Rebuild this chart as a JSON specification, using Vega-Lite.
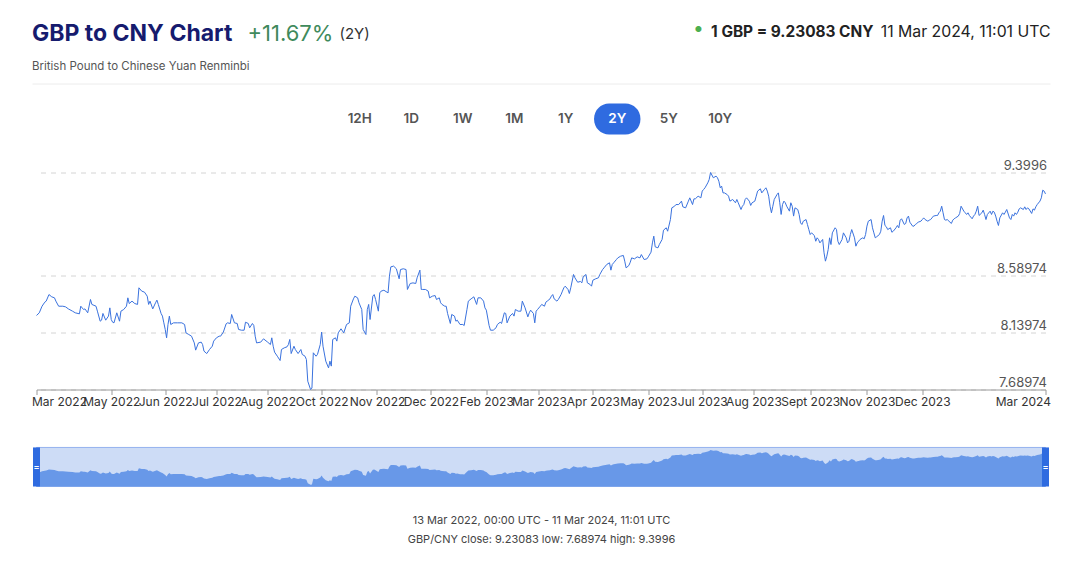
{
  "$schema": "https://vega.github.io/schema/vega-lite/v6.json",
  "background": "white",
  "padding": {"left": 31, "top": 22.5, "right": 5, "bottom": 5},
  "config": {
    "font": "Inter",
    "view": {"stroke": null},
    "axis": {"labelFont": "Inter", "titleFont": "Inter"},
    "title": {"font": "Inter", "subtitleFont": "Inter"}
  },
  "title": {
    "text": "GBP to CNY Chart",
    "subtitle": "British Pound to Chinese Yuan Renminbi",
    "anchor": "start",
    "frame": "group",
    "offset": -50,
    "fontSize": 23,
    "fontWeight": 700,
    "color": "#161b6e",
    "subtitleFontSize": 11.5,
    "subtitleColor": "#555555",
    "subtitlePadding": 15
  },
  "datasets": {
    "fx": [
      {"d":"2022-03-13","v":8.273},{"d":"2022-03-15","v":8.294},{"d":"2022-03-17","v":8.346},{"d":"2022-03-19","v":8.378},{"d":"2022-03-20","v":8.386},{"d":"2022-03-22","v":8.438},{"d":"2022-03-24","v":8.420},{"d":"2022-03-26","v":8.412},{"d":"2022-03-27","v":8.386},{"d":"2022-03-29","v":8.346},
      {"d":"2022-04-01","v":8.346},{"d":"2022-04-03","v":8.341},{"d":"2022-04-05","v":8.325},{"d":"2022-04-08","v":8.307},{"d":"2022-04-10","v":8.294},{"d":"2022-04-13","v":8.286},{"d":"2022-04-14","v":8.346},{"d":"2022-04-16","v":8.320},{"d":"2022-04-17","v":8.325},{"d":"2022-04-19","v":8.294},{"d":"2022-04-21","v":8.399},{"d":"2022-04-22","v":8.360},{"d":"2022-04-25","v":8.346},{"d":"2022-04-26","v":8.307},{"d":"2022-04-28","v":8.228},{"d":"2022-04-29","v":8.236},{"d":"2022-04-30","v":8.289},
      {"d":"2022-05-02","v":8.236},{"d":"2022-05-04","v":8.268},{"d":"2022-05-05","v":8.333},{"d":"2022-05-06","v":8.241},{"d":"2022-05-07","v":8.220},{"d":"2022-05-08","v":8.215},{"d":"2022-05-10","v":8.294},{"d":"2022-05-12","v":8.228},{"d":"2022-05-13","v":8.307},{"d":"2022-05-15","v":8.320},{"d":"2022-05-17","v":8.346},{"d":"2022-05-18","v":8.412},{"d":"2022-05-19","v":8.367},{"d":"2022-05-21","v":8.386},{"d":"2022-05-23","v":8.367},{"d":"2022-05-25","v":8.360},{"d":"2022-05-26","v":8.491},{"d":"2022-05-28","v":8.465},{"d":"2022-05-30","v":8.457},
      {"d":"2022-06-01","v":8.425},{"d":"2022-06-02","v":8.360},{"d":"2022-06-03","v":8.386},{"d":"2022-06-05","v":8.325},{"d":"2022-06-07","v":8.373},{"d":"2022-06-08","v":8.394},{"d":"2022-06-09","v":8.360},{"d":"2022-06-11","v":8.289},{"d":"2022-06-12","v":8.268},{"d":"2022-06-13","v":8.215},{"d":"2022-06-14","v":8.163},{"d":"2022-06-15","v":8.097},{"d":"2022-06-16","v":8.202},{"d":"2022-06-17","v":8.268},{"d":"2022-06-18","v":8.202},{"d":"2022-06-20","v":8.215},{"d":"2022-06-23","v":8.215},{"d":"2022-06-26","v":8.215},{"d":"2022-06-28","v":8.202},{"d":"2022-06-29","v":8.136},
      {"d":"2022-07-01","v":8.123},{"d":"2022-07-03","v":8.110},{"d":"2022-07-05","v":8.057},{"d":"2022-07-06","v":8.000},{"d":"2022-07-08","v":8.057},{"d":"2022-07-10","v":8.063},{"d":"2022-07-11","v":8.044},{"d":"2022-07-12","v":7.992},{"d":"2022-07-14","v":7.973},{"d":"2022-07-16","v":8.005},{"d":"2022-07-18","v":8.031},{"d":"2022-07-19","v":8.071},{"d":"2022-07-21","v":8.097},{"d":"2022-07-23","v":8.110},{"d":"2022-07-24","v":8.110},{"d":"2022-07-26","v":8.142},{"d":"2022-07-28","v":8.207},{"d":"2022-07-29","v":8.215},{"d":"2022-07-31","v":8.210},
      {"d":"2022-08-01","v":8.281},{"d":"2022-08-03","v":8.215},{"d":"2022-08-05","v":8.210},{"d":"2022-08-06","v":8.163},{"d":"2022-08-08","v":8.157},{"d":"2022-08-10","v":8.157},{"d":"2022-08-11","v":8.220},{"d":"2022-08-13","v":8.210},{"d":"2022-08-14","v":8.176},{"d":"2022-08-16","v":8.210},{"d":"2022-08-17","v":8.194},{"d":"2022-08-18","v":8.110},{"d":"2022-08-19","v":8.057},{"d":"2022-08-22","v":8.063},{"d":"2022-08-24","v":8.089},{"d":"2022-08-27","v":8.063},{"d":"2022-08-29","v":8.044},{"d":"2022-08-30","v":8.097},{"d":"2022-08-31","v":8.031},
      {"d":"2022-09-01","v":7.984},{"d":"2022-09-03","v":7.952},{"d":"2022-09-05","v":7.918},{"d":"2022-09-06","v":8.005},{"d":"2022-09-08","v":8.018},{"d":"2022-09-10","v":8.026},{"d":"2022-09-11","v":8.044},{"d":"2022-09-12","v":8.084},{"d":"2022-09-13","v":7.973},{"d":"2022-09-15","v":8.031},{"d":"2022-09-16","v":8.005},{"d":"2022-09-18","v":7.973},{"d":"2022-09-20","v":8.005},{"d":"2022-09-21","v":7.966},{"d":"2022-09-23","v":7.952},{"d":"2022-09-24","v":7.926},{"d":"2022-09-25","v":7.755},{"d":"2022-09-27","v":7.68974},{"d":"2022-09-28","v":7.700},{"d":"2022-09-29","v":7.979},
      {"d":"2022-10-01","v":7.952},{"d":"2022-10-02","v":7.966},{"d":"2022-10-04","v":8.044},{"d":"2022-10-05","v":8.142},{"d":"2022-10-06","v":8.031},{"d":"2022-10-08","v":7.913},{"d":"2022-10-10","v":7.860},{"d":"2022-10-11","v":7.913},{"d":"2022-10-12","v":7.874},{"d":"2022-10-13","v":8.084},{"d":"2022-10-15","v":8.097},{"d":"2022-10-16","v":8.071},{"d":"2022-10-17","v":8.136},{"d":"2022-10-19","v":8.168},{"d":"2022-10-21","v":8.136},{"d":"2022-10-23","v":8.202},{"d":"2022-10-25","v":8.215},{"d":"2022-10-26","v":8.346},{"d":"2022-10-28","v":8.404},{"d":"2022-10-29","v":8.425},{"d":"2022-10-31","v":8.412},
      {"d":"2022-11-01","v":8.373},{"d":"2022-11-03","v":8.320},{"d":"2022-11-04","v":8.163},{"d":"2022-11-06","v":8.123},{"d":"2022-11-07","v":8.320},{"d":"2022-11-08","v":8.360},{"d":"2022-11-09","v":8.241},{"d":"2022-11-11","v":8.425},{"d":"2022-11-12","v":8.438},{"d":"2022-11-13","v":8.399},{"d":"2022-11-15","v":8.307},{"d":"2022-11-16","v":8.451},{"d":"2022-11-17","v":8.465},{"d":"2022-11-19","v":8.472},{"d":"2022-11-22","v":8.451},{"d":"2022-11-23","v":8.583},{"d":"2022-11-24","v":8.656},{"d":"2022-11-26","v":8.662},{"d":"2022-11-28","v":8.641},{"d":"2022-11-30","v":8.562},
      {"d":"2022-12-01","v":8.635},{"d":"2022-12-03","v":8.641},{"d":"2022-12-05","v":8.635},{"d":"2022-12-06","v":8.478},{"d":"2022-12-08","v":8.525},{"d":"2022-12-10","v":8.530},{"d":"2022-12-12","v":8.525},{"d":"2022-12-13","v":8.570},{"d":"2022-12-15","v":8.630},{"d":"2022-12-16","v":8.478},{"d":"2022-12-17","v":8.478},{"d":"2022-12-19","v":8.478},{"d":"2022-12-21","v":8.465},{"d":"2022-12-22","v":8.412},{"d":"2022-12-24","v":8.425},{"d":"2022-12-26","v":8.430},{"d":"2022-12-27","v":8.399},{"d":"2022-12-29","v":8.412},{"d":"2022-12-30","v":8.373},{"d":"2022-12-31","v":8.360},
      {"d":"2023-01-02","v":8.346},{"d":"2023-01-03","v":8.346},{"d":"2023-01-04","v":8.289},{"d":"2023-01-06","v":8.210},{"d":"2023-01-07","v":8.281},{"d":"2023-01-09","v":8.268},{"d":"2023-01-10","v":8.228},{"d":"2023-01-11","v":8.236},{"d":"2023-01-13","v":8.202},{"d":"2023-01-15","v":8.202},{"d":"2023-01-16","v":8.194},{"d":"2023-01-18","v":8.320},{"d":"2023-01-19","v":8.386},{"d":"2023-01-21","v":8.404},{"d":"2023-01-23","v":8.420},{"d":"2023-01-25","v":8.360},{"d":"2023-01-26","v":8.412},{"d":"2023-01-28","v":8.412},{"d":"2023-01-30","v":8.386},{"d":"2023-01-31","v":8.333},
      {"d":"2023-02-01","v":8.315},{"d":"2023-02-03","v":8.194},{"d":"2023-02-04","v":8.157},{"d":"2023-02-06","v":8.157},{"d":"2023-02-08","v":8.176},{"d":"2023-02-09","v":8.202},{"d":"2023-02-11","v":8.220},{"d":"2023-02-12","v":8.210},{"d":"2023-02-14","v":8.294},{"d":"2023-02-15","v":8.289},{"d":"2023-02-16","v":8.215},{"d":"2023-02-18","v":8.268},{"d":"2023-02-20","v":8.289},{"d":"2023-02-21","v":8.268},{"d":"2023-02-22","v":8.320},{"d":"2023-02-24","v":8.307},{"d":"2023-02-26","v":8.307},{"d":"2023-02-27","v":8.386},
      {"d":"2023-03-01","v":8.333},{"d":"2023-03-03","v":8.262},{"d":"2023-03-04","v":8.294},{"d":"2023-03-05","v":8.315},{"d":"2023-03-07","v":8.289},{"d":"2023-03-08","v":8.215},{"d":"2023-03-09","v":8.307},{"d":"2023-03-10","v":8.320},{"d":"2023-03-12","v":8.346},{"d":"2023-03-13","v":8.360},{"d":"2023-03-15","v":8.346},{"d":"2023-03-16","v":8.378},{"d":"2023-03-17","v":8.386},{"d":"2023-03-19","v":8.404},{"d":"2023-03-20","v":8.425},{"d":"2023-03-21","v":8.438},{"d":"2023-03-22","v":8.404},{"d":"2023-03-24","v":8.386},{"d":"2023-03-25","v":8.399},{"d":"2023-03-27","v":8.438},{"d":"2023-03-28","v":8.465},{"d":"2023-03-29","v":8.491},{"d":"2023-03-30","v":8.504},
      {"d":"2023-04-01","v":8.478},{"d":"2023-04-02","v":8.446},{"d":"2023-04-03","v":8.491},{"d":"2023-04-05","v":8.596},{"d":"2023-04-06","v":8.570},{"d":"2023-04-08","v":8.535},{"d":"2023-04-10","v":8.541},{"d":"2023-04-11","v":8.530},{"d":"2023-04-12","v":8.578},{"d":"2023-04-14","v":8.596},{"d":"2023-04-15","v":8.530},{"d":"2023-04-17","v":8.517},{"d":"2023-04-18","v":8.504},{"d":"2023-04-19","v":8.551},{"d":"2023-04-21","v":8.562},{"d":"2023-04-23","v":8.570},{"d":"2023-04-24","v":8.596},{"d":"2023-04-26","v":8.635},{"d":"2023-04-27","v":8.648},{"d":"2023-04-29","v":8.675},
      {"d":"2023-05-01","v":8.688},{"d":"2023-05-02","v":8.630},{"d":"2023-05-03","v":8.675},{"d":"2023-05-04","v":8.688},{"d":"2023-05-06","v":8.714},{"d":"2023-05-07","v":8.727},{"d":"2023-05-09","v":8.740},{"d":"2023-05-11","v":8.746},{"d":"2023-05-12","v":8.701},{"d":"2023-05-13","v":8.648},{"d":"2023-05-15","v":8.667},{"d":"2023-05-16","v":8.693},{"d":"2023-05-17","v":8.727},{"d":"2023-05-19","v":8.719},{"d":"2023-05-21","v":8.735},{"d":"2023-05-23","v":8.727},{"d":"2023-05-24","v":8.753},{"d":"2023-05-26","v":8.714},{"d":"2023-05-28","v":8.719},{"d":"2023-05-29","v":8.735},{"d":"2023-05-31","v":8.772},
      {"d":"2023-06-01","v":8.845},{"d":"2023-06-02","v":8.898},{"d":"2023-06-03","v":8.814},{"d":"2023-06-05","v":8.806},{"d":"2023-06-06","v":8.832},{"d":"2023-06-08","v":8.872},{"d":"2023-06-09","v":8.945},{"d":"2023-06-11","v":8.964},{"d":"2023-06-12","v":8.937},{"d":"2023-06-14","v":9.029},{"d":"2023-06-15","v":9.121},{"d":"2023-06-17","v":9.134},{"d":"2023-06-18","v":9.147},{"d":"2023-06-20","v":9.147},{"d":"2023-06-22","v":9.174},{"d":"2023-06-23","v":9.129},{"d":"2023-06-25","v":9.121},{"d":"2023-06-27","v":9.174},{"d":"2023-06-28","v":9.200},{"d":"2023-06-30","v":9.147},
      {"d":"2023-07-01","v":9.192},{"d":"2023-07-02","v":9.192},{"d":"2023-07-04","v":9.213},{"d":"2023-07-06","v":9.200},{"d":"2023-07-07","v":9.253},{"d":"2023-07-08","v":9.266},{"d":"2023-07-09","v":9.279},{"d":"2023-07-11","v":9.318},{"d":"2023-07-12","v":9.344},{"d":"2023-07-13","v":9.3996},{"d":"2023-07-15","v":9.358},{"d":"2023-07-17","v":9.371},{"d":"2023-07-18","v":9.358},{"d":"2023-07-19","v":9.331},{"d":"2023-07-20","v":9.279},{"d":"2023-07-21","v":9.292},{"d":"2023-07-22","v":9.239},{"d":"2023-07-23","v":9.239},{"d":"2023-07-25","v":9.226},{"d":"2023-07-26","v":9.213},{"d":"2023-07-27","v":9.174},{"d":"2023-07-29","v":9.187},{"d":"2023-07-30","v":9.174},{"d":"2023-07-31","v":9.161},
      {"d":"2023-08-01","v":9.187},{"d":"2023-08-02","v":9.161},{"d":"2023-08-04","v":9.108},{"d":"2023-08-05","v":9.134},{"d":"2023-08-06","v":9.147},{"d":"2023-08-07","v":9.187},{"d":"2023-08-08","v":9.200},{"d":"2023-08-10","v":9.174},{"d":"2023-08-11","v":9.140},{"d":"2023-08-12","v":9.161},{"d":"2023-08-14","v":9.174},{"d":"2023-08-15","v":9.213},{"d":"2023-08-16","v":9.253},{"d":"2023-08-18","v":9.271},{"d":"2023-08-19","v":9.239},{"d":"2023-08-21","v":9.266},{"d":"2023-08-22","v":9.279},{"d":"2023-08-23","v":9.253},{"d":"2023-08-24","v":9.213},{"d":"2023-08-25","v":9.134},{"d":"2023-08-26","v":9.082},{"d":"2023-08-27","v":9.134},{"d":"2023-08-28","v":9.187},{"d":"2023-08-30","v":9.226},{"d":"2023-08-31","v":9.239},
      {"d":"2023-09-01","v":9.161},{"d":"2023-09-02","v":9.069},{"d":"2023-09-03","v":9.147},{"d":"2023-09-04","v":9.174},{"d":"2023-09-05","v":9.161},{"d":"2023-09-06","v":9.134},{"d":"2023-09-08","v":9.095},{"d":"2023-09-09","v":9.161},{"d":"2023-09-10","v":9.134},{"d":"2023-09-11","v":9.056},{"d":"2023-09-12","v":9.121},{"d":"2023-09-14","v":9.108},{"d":"2023-09-15","v":9.069},{"d":"2023-09-16","v":9.003},{"d":"2023-09-17","v":8.990},{"d":"2023-09-18","v":9.016},{"d":"2023-09-20","v":9.029},{"d":"2023-09-21","v":8.990},{"d":"2023-09-22","v":8.950},{"d":"2023-09-23","v":8.911},{"d":"2023-09-24","v":8.924},{"d":"2023-09-26","v":8.903},{"d":"2023-09-27","v":8.858},{"d":"2023-09-28","v":8.885},{"d":"2023-09-29","v":8.872},{"d":"2023-09-30","v":8.845},
      {"d":"2023-10-02","v":8.872},{"d":"2023-10-03","v":8.767},{"d":"2023-10-04","v":8.701},{"d":"2023-10-05","v":8.740},{"d":"2023-10-06","v":8.793},{"d":"2023-10-07","v":8.885},{"d":"2023-10-08","v":8.832},{"d":"2023-10-09","v":8.924},{"d":"2023-10-11","v":8.964},{"d":"2023-10-12","v":8.950},{"d":"2023-10-13","v":8.858},{"d":"2023-10-14","v":8.832},{"d":"2023-10-16","v":8.872},{"d":"2023-10-17","v":8.924},{"d":"2023-10-19","v":8.885},{"d":"2023-10-20","v":8.845},{"d":"2023-10-21","v":8.858},{"d":"2023-10-22","v":8.911},{"d":"2023-10-23","v":8.950},{"d":"2023-10-25","v":8.885},{"d":"2023-10-26","v":8.819},{"d":"2023-10-27","v":8.845},{"d":"2023-10-28","v":8.858},{"d":"2023-10-29","v":8.872},{"d":"2023-10-31","v":8.885},
      {"d":"2023-11-01","v":8.877},{"d":"2023-11-02","v":8.911},{"d":"2023-11-03","v":8.977},{"d":"2023-11-04","v":9.016},{"d":"2023-11-06","v":9.029},{"d":"2023-11-07","v":8.964},{"d":"2023-11-08","v":8.924},{"d":"2023-11-09","v":8.885},{"d":"2023-11-10","v":8.893},{"d":"2023-11-12","v":8.911},{"d":"2023-11-13","v":8.937},{"d":"2023-11-14","v":9.016},{"d":"2023-11-15","v":9.061},{"d":"2023-11-16","v":8.982},{"d":"2023-11-17","v":8.972},{"d":"2023-11-18","v":8.950},{"d":"2023-11-20","v":8.964},{"d":"2023-11-21","v":8.929},{"d":"2023-11-22","v":8.937},{"d":"2023-11-24","v":8.964},{"d":"2023-11-25","v":8.982},{"d":"2023-11-26","v":8.964},{"d":"2023-11-27","v":9.024},{"d":"2023-11-28","v":9.035},{"d":"2023-11-30","v":8.990},
      {"d":"2023-12-01","v":8.998},{"d":"2023-12-02","v":9.042},{"d":"2023-12-03","v":9.056},{"d":"2023-12-04","v":9.008},{"d":"2023-12-06","v":8.977},{"d":"2023-12-07","v":8.977},{"d":"2023-12-08","v":8.990},{"d":"2023-12-09","v":8.998},{"d":"2023-12-10","v":9.008},{"d":"2023-12-12","v":9.016},{"d":"2023-12-13","v":9.029},{"d":"2023-12-14","v":9.042},{"d":"2023-12-15","v":9.029},{"d":"2023-12-17","v":9.016},{"d":"2023-12-18","v":9.024},{"d":"2023-12-19","v":9.029},{"d":"2023-12-20","v":9.042},{"d":"2023-12-21","v":9.056},{"d":"2023-12-23","v":9.061},{"d":"2023-12-24","v":9.061},{"d":"2023-12-25","v":9.082},{"d":"2023-12-26","v":9.095},{"d":"2023-12-27","v":9.134},{"d":"2023-12-28","v":9.082},{"d":"2023-12-29","v":9.029},{"d":"2023-12-30","v":9.024},{"d":"2023-12-31","v":9.029},
      {"d":"2024-01-02","v":9.008},{"d":"2024-01-03","v":8.998},{"d":"2024-01-04","v":9.024},{"d":"2024-01-05","v":9.035},{"d":"2024-01-06","v":9.042},{"d":"2024-01-08","v":9.056},{"d":"2024-01-09","v":9.077},{"d":"2024-01-10","v":9.134},{"d":"2024-01-12","v":9.095},{"d":"2024-01-13","v":9.082},{"d":"2024-01-14","v":9.069},{"d":"2024-01-15","v":9.082},{"d":"2024-01-16","v":9.061},{"d":"2024-01-18","v":9.035},{"d":"2024-01-19","v":9.056},{"d":"2024-01-20","v":9.069},{"d":"2024-01-21","v":9.095},{"d":"2024-01-22","v":9.134},{"d":"2024-01-23","v":9.061},{"d":"2024-01-25","v":9.082},{"d":"2024-01-26","v":9.103},{"d":"2024-01-27","v":9.069},{"d":"2024-01-28","v":9.029},{"d":"2024-01-29","v":9.069},{"d":"2024-01-31","v":9.095},
      {"d":"2024-02-01","v":9.069},{"d":"2024-02-02","v":9.095},{"d":"2024-02-03","v":9.087},{"d":"2024-02-04","v":9.056},{"d":"2024-02-05","v":9.016},{"d":"2024-02-06","v":8.982},{"d":"2024-02-07","v":9.042},{"d":"2024-02-09","v":9.082},{"d":"2024-02-10","v":9.069},{"d":"2024-02-11","v":9.087},{"d":"2024-02-12","v":9.108},{"d":"2024-02-14","v":9.042},{"d":"2024-02-15","v":9.029},{"d":"2024-02-16","v":9.069},{"d":"2024-02-17","v":9.056},{"d":"2024-02-18","v":9.082},{"d":"2024-02-19","v":9.069},{"d":"2024-02-20","v":9.087},{"d":"2024-02-21","v":9.113},{"d":"2024-02-22","v":9.121},{"d":"2024-02-24","v":9.108},{"d":"2024-02-25","v":9.129},{"d":"2024-02-26","v":9.108},{"d":"2024-02-27","v":9.121},{"d":"2024-02-28","v":9.113},
      {"d":"2024-03-01","v":9.077},{"d":"2024-03-02","v":9.113},{"d":"2024-03-03","v":9.103},{"d":"2024-03-04","v":9.129},{"d":"2024-03-05","v":9.147},{"d":"2024-03-07","v":9.174},{"d":"2024-03-08","v":9.200},{"d":"2024-03-09","v":9.260},{"d":"2024-03-10","v":9.253},{"d":"2024-03-11","v":9.23083}
    ],
    "ends": [{"d": "2022-03-13"}, {"d": "2024-03-11"}],
    "frame": [{"a": "2022-03-13", "b": "2024-03-11"}],
    "buttons": [{"b": "12H"}, {"b": "1D"}, {"b": "1W"}, {"b": "1M"}, {"b": "1Y"}, {"b": "2Y"}, {"b": "5Y"}, {"b": "10Y"}]
  },
  "bounds": "flush",
  "center": true,
  "spacing": 38,
  "vconcat": [
    {
      "width": 1018,
      "height": 31,
      "data": {"name": "buttons"},
      "layer": [
        {
          "transform": [{"filter": "datum.b === '2Y'"}],
          "mark": {"type": "bar", "color": "#2f6be0", "cornerRadius": 15, "width": {"band": 0.9}},
          "encoding": {
            "x": {
              "field": "b",
              "type": "nominal",
              "scale": {"type": "band", "domain": ["12H", "1D", "1W", "1M", "1Y", "2Y", "5Y", "10Y"], "paddingInner": 0, "paddingOuter": 0, "range": [302, 714]},
              "axis": null
            }
          }
        },
        {
          "mark": {"type": "text", "fontSize": 13.5, "fontWeight": 600, "baseline": "middle"},
          "encoding": {
            "x": {
              "field": "b",
              "type": "nominal",
              "scale": {"type": "band", "domain": ["12H", "1D", "1W", "1M", "1Y", "2Y", "5Y", "10Y"], "paddingInner": 0, "paddingOuter": 0, "range": [302, 714]},
              "axis": null
            },
            "text": {"field": "b"},
            "color": {"condition": {"test": "datum.b === '2Y'", "value": "#ffffff"}, "value": "#555555"}
          }
        },
        {
          "mark": {"type": "point", "opacity": 0},
          "encoding": {
            "x": {
              "field": "b",
              "type": "nominal",
              "scale": {"type": "band", "domain": ["12H", "1D", "1W", "1M", "1Y", "2Y", "5Y", "10Y"], "paddingInner": 0, "paddingOuter": 0},
              "axis": {
                "orient": "top",
                "offset": 20,
                "labels": false,
                "ticks": false,
                "domain": true,
                "domainColor": "#ececec",
                "domainWidth": 1,
                "title": "+11.67%",
                "titleX": 215,
                "titleY": -43,
                "titleAlign": "left",
                "titleBaseline": "alphabetic",
                "titleAngle": 0,
                "titleFontSize": 22,
                "titleFontWeight": 400,
                "titleColor": "#3f8a5c"
              }
            }
          }
        }
      ],
      "resolve": {"scale": {"x": "independent"}, "axis": {"x": "independent"}}
    },
    {
      "width": 1009,
      "height": 217,
      "data": {"name": "fx"},
      "mark": {"type": "line", "color": "#3a72de", "strokeWidth": 1, "interpolate": "linear"},
      "encoding": {
        "x": {
          "field": "d",
          "type": "temporal",
          "scale": {"type": "utc", "nice": false},
          "axis": {
            "values": [
              {"year": 2022, "month": 3, "date": 13, "utc": true},
              {"year": 2022, "month": 5, "date": 6, "utc": true},
              {"year": 2022, "month": 6, "date": 14, "utc": true},
              {"year": 2022, "month": 7, "date": 21, "utc": true},
              {"year": 2022, "month": 8, "date": 27, "utc": true},
              {"year": 2022, "month": 10, "date": 5, "utc": true},
              {"year": 2022, "month": 11, "date": 14, "utc": true},
              {"year": 2022, "month": 12, "date": 23, "utc": true},
              {"year": 2023, "month": 2, "date": 1, "utc": true},
              {"year": 2023, "month": 3, "date": 11, "utc": true},
              {"year": 2023, "month": 4, "date": 19, "utc": true},
              {"year": 2023, "month": 5, "date": 29, "utc": true},
              {"year": 2023, "month": 7, "date": 7, "utc": true},
              {"year": 2023, "month": 8, "date": 13, "utc": true},
              {"year": 2023, "month": 9, "date": 23, "utc": true},
              {"year": 2023, "month": 11, "date": 3, "utc": true},
              {"year": 2023, "month": 12, "date": 13, "utc": true},
              {"year": 2024, "month": 3, "date": 11, "utc": true}
            ],
            "labelExpr": "replace(utcFormat(datum.value, '%b %Y'), 'Sep ', 'Sept ')",
            "labelFlush": true,
            "labelFlushOffset": 5,
            "labelOverlap": false,
            "labelFontSize": 12,
            "labelColor": "#333333",
            "labelPadding": 2,
            "grid": false,
            "domainColor": "#9a9a9a",
            "tickColor": "#9a9a9a",
            "tickSize": 5,
            "title": "1 GBP = 9.23083 CNY",
            "titleX": 836.5,
            "titleY": -353,
            "titleAlign": "right",
            "titleBaseline": "alphabetic",
            "titleAngle": 0,
            "titleFontSize": 15.4,
            "titleFontWeight": 700,
            "titleColor": "#222222"
          }
        },
        "y": {
          "field": "v",
          "type": "quantitative",
          "scale": {"zero": false, "nice": false, "domain": [7.68974, 9.3996]},
          "axis": {
            "orient": "right",
            "values": [7.68974, 8.13974, 8.58974, 9.3996],
            "labelExpr": "'' + datum.value",
            "labelAlign": "right",
            "labelBaseline": "bottom",
            "labelPadding": 1,
            "labelFontSize": 13,
            "labelColor": "#555555",
            "domain": false,
            "ticks": false,
            "tickSize": 0,
            "grid": true,
            "gridColor": "#d4d4d4",
            "gridDash": [5, 5],
            "gridWidth": 1,
            "title": "(2Y)",
            "titleX": -706.5,
            "titleY": -134,
            "titleAlign": "left",
            "titleBaseline": "alphabetic",
            "titleAngle": 0,
            "titleFontSize": 15,
            "titleFontWeight": 400,
            "titleColor": "#333333"
          }
        }
      }
    },
    {
      "width": 1009,
      "height": 59,
      "layer": [
        {
          "data": {"name": "frame"},
          "mark": {"type": "rect", "fill": "#cddcf6", "stroke": "#94b2ee", "strokeWidth": 1},
          "encoding": {
            "x": {"field": "a", "type": "temporal", "scale": {"type": "utc", "nice": false}},
            "x2": {"field": "b"},
            "y": {"datum": 9.52, "type": "quantitative", "axis": null},
            "y2": {"datum": 7.6}
          }
        },
        {
          "data": {"name": "fx"},
          "mark": {"type": "area", "color": "#6898e8", "opacity": 1},
          "encoding": {
            "x": {
              "field": "d",
              "type": "temporal",
              "scale": {"type": "utc", "nice": false},
              "axis": {
                "labels": false,
                "ticks": false,
                "domain": false,
                "grid": false,
                "title": ["13 Mar 2022, 00:00 UTC - 11 Mar 2024, 11:01 UTC", "GBP/CNY close: 9.23083 low: 7.68974 high: 9.3996"],
                "titleFontSize": 11,
                "titleFontWeight": 400,
                "titleColor": "#444444",
                "titlePadding": 28,
                "titleLineHeight": 19
              }
            },
            "y": {
              "field": "v",
              "type": "quantitative",
              "scale": {"zero": false, "nice": false, "domain": [7.6, 10.5]},
              "axis": {
                "orient": "left",
                "labels": false,
                "ticks": false,
                "domain": false,
                "grid": false,
                "title": "11 Mar 2024, 11:01 UTC",
                "titleX": 1013.5,
                "titleY": -391,
                "titleAlign": "right",
                "titleBaseline": "alphabetic",
                "titleAngle": 0,
                "titleFontSize": 15.8,
                "titleFontWeight": 400,
                "titleColor": "#222222"
              }
            },
            "y2": {"datum": 7.6}
          }
        },
        {
          "data": {"name": "ends"},
          "mark": {"type": "rule", "color": "#2f6be0", "strokeWidth": 7},
          "encoding": {
            "x": {"field": "d", "type": "temporal", "scale": {"type": "utc", "nice": false}},
            "y": {
              "datum": 9.52,
              "type": "quantitative",
              "axis": {
                "orient": "right",
                "labels": false,
                "ticks": false,
                "domain": false,
                "grid": false,
                "title": "●",
                "titleX": -347.5,
                "titleY": -398,
                "titleAlign": "center",
                "titleBaseline": "middle",
                "titleAngle": 0,
                "titleFontSize": 8,
                "titleColor": "#4caf50"
              }
            },
            "y2": {"datum": 7.6}
          }
        },
        {
          "data": {"name": "ends"},
          "mark": {"type": "text", "text": "=", "color": "#ffffff", "fontSize": 9, "fontWeight": 700, "baseline": "middle"},
          "encoding": {
            "x": {"field": "d", "type": "temporal", "scale": {"type": "utc", "nice": false}},
            "y": {"datum": 8.56, "type": "quantitative", "axis": null}
          }
        }
      ]
    }
  ]
}
